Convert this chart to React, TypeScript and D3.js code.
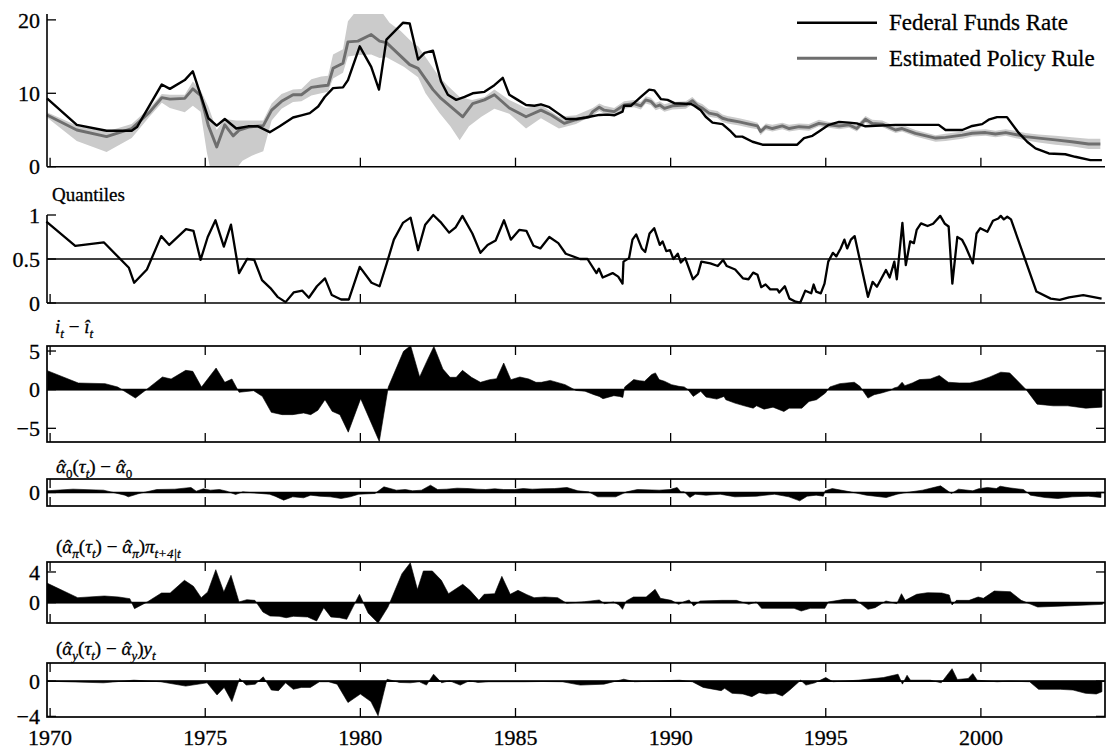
import React from 'react';
import * as d3 from 'd3';

type P = [number, number];

// ---------- data ----------
const yearTicks = [1970, 1975, 1980, 1985, 1990, 1995, 2000];

const fedFundsRate: P[] = [
  [1969.9, 9.3], [1970.86, 5.7], [1971.82, 4.9], [1972.63, 4.9], [1972.8, 5.4], [1973.6, 11.2], [1973.86, 10.6],
  [1974.34, 11.8], [1974.6, 13.0], [1975.1, 6.6], [1975.37, 5.6], [1975.63, 6.5], [1976.0, 5.2], [1976.38, 5.5],
  [1976.7, 5.5], [1977.08, 4.7], [1977.4, 5.5], [1977.83, 6.7], [1978.1, 7.0], [1978.37, 7.3], [1978.64, 8.2],
  [1978.85, 9.5], [1979.12, 10.7], [1979.44, 10.8], [1979.6, 11.8], [1979.98, 16.4], [1980.35, 13.6], [1980.6, 10.5],
  [1980.84, 17.3], [1981.37, 19.6], [1981.59, 19.5], [1981.86, 14.6], [1982.07, 15.5], [1982.34, 15.8], [1982.6, 11.6],
  [1982.82, 9.8], [1983.09, 9.1], [1983.36, 9.5], [1983.62, 10.0], [1984.0, 10.2], [1984.32, 11.1], [1984.59, 12.1],
  [1984.8, 9.8], [1985.07, 9.1], [1985.34, 8.4], [1985.61, 8.3], [1985.82, 8.5], [1986.09, 8.1], [1986.36, 7.3],
  [1986.63, 6.5], [1986.95, 6.5], [1987.27, 6.7], [1987.7, 7.05], [1987.97, 7.1], [1988.18, 7.0], [1988.45, 7.5],
  [1988.5, 8.3], [1988.72, 8.3], [1988.88, 8.9], [1989.04, 9.5], [1989.31, 10.5], [1989.47, 10.4], [1989.69, 9.2],
  [1989.9, 9.1], [1990.12, 8.65], [1990.65, 8.55], [1990.76, 8.3], [1990.97, 7.7], [1991.13, 6.8], [1991.35, 6.0],
  [1991.67, 5.8], [1991.94, 4.8], [1992.1, 4.1], [1992.31, 4.1], [1992.64, 3.4], [1992.96, 3.0], [1994.08, 3.0],
  [1994.3, 3.9], [1994.57, 4.2], [1994.78, 4.8], [1995.1, 5.7], [1995.43, 6.1], [1995.75, 6.0], [1996.0, 5.9],
  [1996.28, 5.5], [1997.25, 5.7], [1998.64, 5.7], [1998.86, 5.0], [1999.4, 5.0], [1999.72, 5.55], [2000.04, 5.8],
  [2000.25, 6.4], [2000.52, 6.75], [2000.84, 6.75], [2001.22, 4.6], [2001.49, 3.4], [2001.76, 2.5], [2002.19, 1.8],
  [2002.72, 1.7], [2003.04, 1.35], [2003.53, 0.9], [2003.9, 0.9],
];

const policyRule: P[] = [
  [1969.9, 7.05], [1970.86, 5.0], [1971.82, 4.1], [1972.63, 5.2], [1973.2, 7.4], [1973.6, 9.4], [1973.86, 9.2],
  [1974.34, 9.3], [1974.6, 10.6], [1974.85, 9.7], [1975.1, 5.6], [1975.37, 2.7], [1975.63, 5.7], [1975.9, 4.2],
  [1976.1, 5.0], [1976.4, 5.4], [1976.87, 5.6], [1977.14, 7.7], [1977.46, 8.9], [1977.83, 9.8], [1978.1, 9.8],
  [1978.42, 10.8], [1978.74, 11.0], [1978.96, 11.1], [1979.12, 13.4], [1979.44, 14.1], [1979.6, 17.0], [1979.92, 17.1],
  [1980.35, 18.0], [1980.62, 17.1], [1980.84, 16.9], [1981.59, 13.9], [1981.86, 13.4], [1982.34, 10.5], [1982.6, 9.3],
  [1983.3, 6.8], [1983.62, 8.6], [1984.0, 9.1], [1984.32, 9.8], [1984.8, 8.0], [1985.34, 6.8], [1985.82, 7.7],
  [1986.15, 7.05], [1986.57, 5.9], [1986.95, 6.4], [1987.38, 6.8], [1987.49, 7.5], [1987.7, 8.1], [1987.86, 7.7],
  [1988.18, 7.5], [1988.5, 8.4], [1988.82, 8.6], [1989.04, 8.3], [1989.2, 9.1], [1989.36, 8.9], [1989.52, 8.2],
  [1989.65, 8.4], [1989.8, 7.95], [1990.06, 8.3], [1990.49, 8.4], [1990.7, 9.0], [1990.87, 8.3], [1991.03, 7.95],
  [1991.24, 7.3], [1991.51, 7.05], [1991.67, 6.6], [1991.83, 6.4], [1992.21, 6.1], [1992.53, 5.8], [1992.8, 5.55],
  [1992.9, 4.8], [1993.07, 5.45], [1993.28, 5.2], [1993.6, 5.55], [1993.82, 5.2], [1994.14, 5.45], [1994.46, 5.35],
  [1994.78, 5.9], [1995.1, 5.7], [1995.43, 5.55], [1995.75, 5.7], [1996.0, 5.2], [1996.28, 6.45], [1996.5, 5.9],
  [1996.82, 5.8], [1997.14, 5.2], [1997.25, 5.0], [1997.46, 5.2], [1997.89, 4.55], [1998.54, 3.9], [1998.86, 4.0],
  [1999.4, 4.3], [1999.72, 4.55], [2000.15, 4.65], [2000.47, 4.45], [2000.8, 4.65], [2001.22, 4.3], [2001.43, 4.1],
  [2001.86, 3.9], [2002.4, 3.65], [2002.93, 3.4], [2003.47, 3.1], [2003.85, 3.1],
];

const bandUpper: P[] = [
  [1969.9, 7.4], [1970.86, 5.6], [1971.82, 4.8], [1972.63, 5.8], [1973.2, 8.0], [1973.6, 9.9], [1973.86, 9.8],
  [1974.34, 9.8], [1974.6, 11.6], [1974.85, 10.4], [1975.1, 8.2], [1975.37, 5.0], [1975.63, 6.5], [1976.0, 6.3],
  [1976.38, 6.3], [1976.87, 6.3], [1977.14, 8.6], [1977.46, 9.9], [1977.83, 10.5], [1978.1, 10.6], [1978.42, 11.9],
  [1978.74, 12.3], [1978.96, 12.4], [1979.12, 15.3], [1979.44, 16.0], [1979.6, 19.8], [1979.92, 21.5], [1980.62, 21.5],
  [1980.94, 19.6], [1981.3, 18.5], [1981.7, 16.8], [1981.86, 16.4], [1982.5, 12.5], [1982.8, 11.1], [1983.2, 9.5],
  [1983.6, 9.1], [1984.0, 9.5], [1984.32, 10.5], [1984.8, 9.1], [1985.34, 8.0], [1985.82, 8.4], [1986.4, 6.8],
  [1986.95, 7.0], [1987.49, 8.0], [1987.7, 8.6], [1987.86, 8.3], [1988.18, 8.0], [1988.5, 8.9], [1988.82, 9.1],
  [1989.04, 8.8], [1989.2, 9.6], [1989.36, 9.4], [1989.52, 8.7], [1989.65, 8.9], [1989.8, 8.5], [1990.06, 8.8],
  [1990.49, 8.9], [1990.7, 9.5], [1990.87, 8.8], [1991.03, 8.5], [1991.24, 7.8], [1991.51, 7.6], [1991.67, 7.1],
  [1991.83, 6.9], [1992.21, 6.6], [1992.53, 6.3], [1992.8, 6.0], [1992.9, 5.2], [1993.07, 5.9], [1993.28, 5.7],
  [1993.6, 6.0], [1993.82, 5.7], [1994.14, 5.9], [1994.46, 5.8], [1994.78, 6.4], [1995.1, 6.1], [1995.43, 6.0],
  [1995.75, 6.1], [1996.0, 5.7], [1996.28, 6.9], [1996.5, 6.4], [1996.82, 6.3], [1997.14, 5.7], [1997.25, 5.5],
  [1997.46, 5.7], [1997.89, 5.0], [1998.54, 4.3], [1998.86, 4.5], [1999.4, 4.8], [1999.72, 5.0], [2000.15, 5.1],
  [2000.47, 4.9], [2000.8, 5.1], [2001.22, 4.8], [2001.43, 4.6], [2001.86, 4.4], [2002.4, 4.2], [2002.93, 4.0],
  [2003.47, 3.8], [2003.85, 3.8],
];

const bandLower: P[] = [
  [1969.9, 6.7], [1970.86, 3.5], [1971.82, 2.0], [1972.63, 3.9], [1973.2, 6.8], [1973.6, 8.7], [1973.86, 8.0],
  [1974.34, 7.4], [1974.6, 8.3], [1974.85, 7.5], [1975.05, 2.0], [1975.2, -1.0], [1975.63, -0.5], [1976.0, -0.3],
  [1976.2, 0.8], [1976.5, 1.5], [1976.87, 2.1], [1977.14, 6.3], [1977.46, 7.9], [1977.83, 8.8], [1978.1, 8.9],
  [1978.42, 9.7], [1978.74, 10.0], [1978.96, 10.2], [1979.12, 12.0], [1979.44, 12.8], [1979.6, 15.0], [1979.92, 15.2],
  [1980.35, 15.3], [1980.62, 14.8], [1980.84, 14.9], [1981.4, 13.6], [1981.86, 12.2], [1982.1, 10.0], [1982.55, 7.3],
  [1982.9, 5.5], [1983.2, 3.6], [1983.5, 5.5], [1983.9, 6.8], [1984.32, 7.9], [1984.8, 7.2], [1985.34, 5.2],
  [1985.82, 6.6], [1986.4, 5.2], [1986.95, 5.8], [1987.49, 7.0], [1987.7, 7.6], [1987.86, 7.2], [1988.18, 7.0],
  [1988.5, 7.9], [1988.82, 8.1], [1989.04, 7.8], [1989.2, 8.6], [1989.36, 8.4], [1989.52, 7.7], [1989.65, 7.9],
  [1989.8, 7.5], [1990.06, 7.8], [1990.49, 7.9], [1990.7, 8.5], [1990.87, 7.8], [1991.03, 7.5], [1991.24, 6.8],
  [1991.51, 6.6], [1991.67, 6.1], [1991.83, 5.9], [1992.21, 5.6], [1992.53, 5.3], [1992.8, 5.1], [1992.9, 4.3],
  [1993.07, 5.0], [1993.28, 4.8], [1993.6, 5.1], [1993.82, 4.8], [1994.14, 5.0], [1994.46, 4.9], [1994.78, 5.5],
  [1995.1, 5.3], [1995.43, 5.1], [1995.75, 5.3], [1996.0, 4.8], [1996.28, 6.0], [1996.5, 5.5], [1996.82, 5.4],
  [1997.14, 4.8], [1997.25, 4.6], [1997.46, 4.8], [1997.89, 4.1], [1998.54, 3.4], [1998.86, 3.5], [1999.4, 3.8],
  [1999.72, 4.1], [2000.15, 4.2], [2000.47, 4.0], [2000.8, 4.2], [2001.22, 3.8], [2001.43, 3.6], [2001.86, 3.3],
  [2002.4, 3.0], [2002.93, 2.8], [2003.47, 2.4], [2003.85, 2.4],
];

const quantiles: P[] = [
  [1969.88, 0.925], [1970.81, 0.65], [1971.73, 0.69], [1972.54, 0.40], [1972.71, 0.23], [1973.12, 0.38],
  [1973.58, 0.76], [1973.84, 0.66], [1974.38, 0.84], [1974.62, 0.82], [1974.85, 0.49], [1975.08, 0.75],
  [1975.33, 0.94], [1975.6, 0.64], [1975.83, 0.89], [1976.09, 0.34], [1976.35, 0.50], [1976.58, 0.49],
  [1976.83, 0.26], [1977.1, 0.17], [1977.33, 0.07], [1977.59, 0.01], [1977.85, 0.12], [1978.13, 0.14],
  [1978.34, 0.06], [1978.6, 0.19], [1978.86, 0.28], [1979.08, 0.09], [1979.38, 0.04], [1979.63, 0.04],
  [1979.98, 0.41], [1980.36, 0.23], [1980.62, 0.19], [1980.85, 0.45], [1981.08, 0.72], [1981.37, 0.91],
  [1981.62, 0.97], [1981.86, 0.60], [1982.09, 0.89], [1982.35, 1.0], [1982.61, 0.91], [1982.86, 0.80],
  [1983.07, 0.86], [1983.29, 0.99], [1983.61, 0.79], [1983.87, 0.57], [1984.1, 0.66], [1984.36, 0.71],
  [1984.63, 0.94], [1984.85, 0.72], [1985.12, 0.83], [1985.35, 0.82], [1985.58, 0.65], [1985.8, 0.62],
  [1986.09, 0.75], [1986.38, 0.68], [1986.62, 0.56], [1987.08, 0.50], [1987.32, 0.50], [1987.61, 0.34],
  [1987.69, 0.39], [1987.81, 0.29], [1988.13, 0.34], [1988.31, 0.30], [1988.45, 0.22], [1988.48, 0.47],
  [1988.66, 0.51], [1988.77, 0.72], [1988.89, 0.78], [1989.07, 0.62], [1989.18, 0.58], [1989.32, 0.79],
  [1989.47, 0.85], [1989.65, 0.66], [1989.74, 0.70], [1989.86, 0.59], [1989.98, 0.60], [1990.09, 0.50],
  [1990.23, 0.56], [1990.33, 0.46], [1990.47, 0.51], [1990.72, 0.27], [1990.88, 0.33], [1990.99, 0.47],
  [1991.28, 0.45], [1991.52, 0.42], [1991.69, 0.49], [1991.81, 0.42], [1992.08, 0.38], [1992.33, 0.28],
  [1992.51, 0.27], [1992.66, 0.345], [1992.8, 0.32], [1992.92, 0.18], [1993.06, 0.21], [1993.21, 0.155],
  [1993.44, 0.155], [1993.5, 0.12], [1993.68, 0.19], [1993.83, 0.05], [1994.03, 0.015], [1994.18, 0.005],
  [1994.34, 0.14], [1994.53, 0.11], [1994.61, 0.21], [1994.69, 0.13], [1994.84, 0.11], [1994.96, 0.22],
  [1995.08, 0.47], [1995.23, 0.57], [1995.34, 0.53], [1995.48, 0.62], [1995.6, 0.72], [1995.69, 0.62],
  [1995.81, 0.72], [1995.93, 0.76], [1996.36, 0.07], [1996.51, 0.24], [1996.65, 0.185], [1996.94, 0.375],
  [1997.06, 0.29], [1997.21, 0.47], [1997.29, 0.27], [1997.47, 0.91], [1997.58, 0.43], [1997.72, 0.70],
  [1997.84, 0.68], [1997.93, 0.83], [1998.07, 0.905], [1998.28, 0.875], [1998.46, 0.90], [1998.69, 0.99],
  [1998.84, 0.90], [1998.96, 0.87], [1999.08, 0.22], [1999.24, 0.75], [1999.39, 0.72], [1999.51, 0.64],
  [1999.74, 0.45], [1999.86, 0.79], [1999.98, 0.85], [2000.21, 0.81], [2000.39, 0.935], [2000.56, 0.96],
  [2000.64, 0.99], [2000.74, 0.95], [2000.85, 0.98], [2000.97, 0.95], [2001.79, 0.13], [2002.25, 0.05],
  [2002.54, 0.035], [2002.84, 0.065], [2003.3, 0.09], [2003.89, 0.05],
];

const residual: P[] = [
  [1969.91, 2.46], [1970.91, 0.86], [1971.77, 0.78], [1972.18, 0.34], [1972.75, -1.08], [1973.1, 0.0],
  [1973.62, 1.64], [1973.9, 1.38], [1974.37, 2.5], [1974.6, 2.37], [1974.88, 0.34], [1975.35, 2.8],
  [1975.63, 0.95], [1975.86, 1.38], [1976.09, -0.34], [1976.56, -0.13], [1976.84, -0.86], [1977.13, -2.93],
  [1977.48, -3.23], [1977.82, -3.23], [1978.17, -3.02], [1978.4, -3.23], [1978.63, -2.67], [1978.86, -1.29],
  [1979.09, -2.8], [1979.34, -3.23], [1979.61, -5.5], [1980.01, -1.16], [1980.61, -6.7], [1980.9, 0.34],
  [1981.39, 4.96], [1981.62, 5.7], [1981.91, 1.64], [1982.14, 3.66], [1982.37, 5.6], [1982.66, 2.67],
  [1982.89, 1.6], [1983.09, 1.6], [1983.29, 2.5], [1983.58, 1.6], [1983.87, 0.95], [1984.16, 1.29],
  [1984.39, 1.42], [1984.62, 3.45], [1984.85, 1.29], [1985.14, 1.64], [1985.43, 1.38], [1985.66, 0.95],
  [1985.83, 0.95], [1986.12, 1.2], [1986.6, 0.65], [1986.95, -0.1], [1987.24, -0.2], [1987.53, -0.65],
  [1987.7, -0.87], [1987.82, -1.17], [1988.17, -0.78], [1988.35, -0.87], [1988.46, -1.0], [1988.52, 0.35],
  [1988.81, 1.3], [1988.99, 1.17], [1989.16, 1.09], [1989.39, 1.96], [1989.51, 2.17], [1989.63, 1.3],
  [1989.8, 1.09], [1990.03, 0.65], [1990.27, 0.43], [1990.44, 0.35], [1990.56, 0.0], [1990.73, -0.87],
  [1990.97, -0.22], [1991.14, -0.96], [1991.49, -1.22], [1991.72, -0.87], [1991.78, -1.3], [1992.07, -1.74],
  [1992.37, -2.09], [1992.66, -2.39], [1992.77, -2.09], [1993.01, -2.52], [1993.3, -2.26], [1993.65, -2.83],
  [1993.82, -2.39], [1994.23, -2.39], [1994.46, -1.52], [1994.7, -1.3], [1994.99, -0.43], [1995.13, 0.35],
  [1995.45, 0.78], [1995.92, 0.96], [1996.1, 0.43], [1996.36, -1.09], [1996.56, -0.65], [1996.8, -0.43],
  [1997.09, -0.09], [1997.2, 0.22], [1997.32, 0.35], [1997.46, 0.96], [1997.55, 0.52], [1997.79, 0.87],
  [1998.02, 1.3], [1998.37, 1.39], [1998.66, 1.83], [1998.95, 0.96], [1999.3, 0.87], [1999.65, 0.87],
  [2000.0, 1.22], [2000.29, 1.65], [2000.64, 2.26], [2000.93, 2.17], [2001.46, 0.0], [2001.81, -1.87],
  [2002.33, -2.09], [2002.8, -2.09], [2003.38, -2.39], [2003.9, -2.26],
];

const alpha0Dev: P[] = [
  [1969.9, 0.19], [1970.74, 0.37], [1971.72, 0.26], [1972.41, -0.3], [1972.52, -0.48], [1972.87, -0.11],
  [1973.44, 0.33], [1974.02, 0.37], [1974.54, 0.56], [1974.71, 0.15], [1974.94, 0.41], [1975.17, 0.26],
  [1975.46, 0.33], [1975.69, 0.15], [1975.98, -0.22], [1976.21, 0.07], [1976.56, -0.04], [1977.07, -0.19],
  [1977.25, -0.41], [1977.53, -0.85], [1977.82, -0.48], [1978.17, -0.59], [1978.4, -0.3], [1978.69, -0.41],
  [1979.03, -0.48], [1979.38, -0.67], [1979.67, -0.48], [1979.95, -0.19], [1980.47, -0.11], [1980.76, 0.63],
  [1981.16, 0.26], [1981.45, 0.33], [1981.68, 0.19], [1981.97, 0.26], [1982.26, 0.81], [1982.49, 0.33],
  [1982.78, 0.37], [1983.12, 0.48], [1983.47, 0.44], [1983.76, 0.37], [1984.04, 0.33], [1984.33, 0.41],
  [1984.62, 0.33], [1984.97, 0.33], [1985.25, 0.44], [1985.54, 0.37], [1985.89, 0.41], [1986.26, 0.44],
  [1986.66, 0.56], [1987.01, 0.19], [1987.36, 0.07], [1987.65, -0.48], [1988.23, -0.48], [1988.58, 0.07],
  [1988.93, 0.33], [1989.63, 0.26], [1989.98, 0.33], [1990.21, 0.56], [1990.33, 0.07], [1990.44, 0.07],
  [1990.62, -0.56], [1990.79, -0.19], [1991.14, -0.3], [1991.6, -0.19], [1991.78, -0.3], [1992.07, -0.48],
  [1992.77, -0.41], [1993.35, -0.19], [1993.81, -0.48], [1994.16, -0.93], [1994.4, -0.41], [1994.69, -0.3],
  [1994.92, -0.41], [1994.98, 0.19], [1995.21, 0.44], [1995.79, 0.07], [1996.31, -0.3], [1996.95, -0.56],
  [1997.3, -0.19], [1997.53, -0.04], [1998.12, 0.26], [1998.7, 0.74], [1999.05, -0.11], [1999.28, 0.37],
  [1999.74, 0.19], [1999.92, 0.41], [2000.21, 0.56], [2000.5, 0.44], [2000.62, 0.7], [2000.91, 0.52],
  [2001.37, 0.33], [2001.6, -0.3], [2002.07, -0.56], [2002.48, -0.67], [2002.94, -0.48], [2003.47, -0.41],
  [2003.87, -0.56],
];

const alphaPiDev: P[] = [
  [1969.89, 2.57], [1970.89, 0.65], [1971.75, 0.87], [1972.21, 0.74], [1972.57, 0.52], [1972.72, -0.78],
  [1973.13, 0.09], [1973.59, 1.26], [1973.87, 1.26], [1974.33, 2.91], [1974.62, 2.13], [1974.87, 0.65],
  [1975.08, 1.39], [1975.34, 4.3], [1975.6, 1.39], [1975.83, 3.57], [1976.09, 0.09], [1976.34, 0.39],
  [1976.6, 0.3], [1976.86, -1.22], [1977.09, -1.74], [1977.38, -1.78], [1977.61, -1.96], [1977.84, -1.78],
  [1978.3, -1.87], [1978.59, -2.39], [1978.82, -0.65], [1979.05, -1.87], [1979.33, -1.96], [1979.56, -2.17],
  [1979.97, 1.09], [1980.25, -1.35], [1980.57, -2.65], [1980.89, -0.57], [1981.34, 3.78], [1981.61, 5.2],
  [1981.84, 1.7], [1982.03, 4.13], [1982.32, 4.13], [1982.61, 2.91], [1982.84, 1.17], [1983.3, 2.39],
  [1983.53, 1.61], [1983.82, 0.3], [1983.99, 1.09], [1984.33, 1.17], [1984.56, 3.43], [1984.83, 1.09],
  [1985.08, 1.61], [1985.37, 1.04], [1985.6, 0.65], [1985.94, 0.74], [1986.36, 0.65], [1986.65, -0.09],
  [1987.23, 0.13], [1987.7, 0.35], [1987.87, -0.13], [1988.16, 0.09], [1988.34, -0.3], [1988.45, -0.87],
  [1988.57, 0.22], [1988.8, 0.74], [1989.21, 0.74], [1989.5, 1.74], [1989.67, 0.57], [1990.02, 0.3],
  [1990.26, -0.22], [1990.43, 0.13], [1990.6, 0.35], [1990.74, -0.43], [1990.95, 0.22], [1991.65, 0.3],
  [1992.12, 0.3], [1992.52, -0.22], [1992.76, 0.09], [1992.93, -0.74], [1993.98, -0.74], [1994.21, -1.09],
  [1994.5, -0.74], [1994.97, -0.74], [1995.08, 0.09], [1995.6, 0.43], [1995.95, 0.43], [1996.36, -0.87],
  [1996.59, -0.65], [1996.94, 0.22], [1997.29, -0.13], [1997.44, 1.17], [1997.56, 0.3], [1997.93, 1.09],
  [1998.28, 1.3], [1998.74, 1.26], [1998.98, 1.0], [1999.07, -0.3], [1999.21, 0.3], [1999.62, 0.3],
  [1999.91, 0.74], [2000.08, 0.57], [2000.43, 1.52], [2000.95, 1.43], [2001.3, 0.3], [2001.83, -0.57],
  [2002.7, -0.43], [2003.92, -0.22],
];

const alphaYDev: P[] = [
  [1969.89, 0.0], [1971.72, -0.19], [1972.7, 0.11], [1973.56, -0.07], [1974.37, -0.56], [1975.06, -0.19],
  [1975.38, -1.57], [1975.61, -0.71], [1975.86, -2.32], [1976.11, 0.3], [1976.32, -0.45], [1976.61, -0.34],
  [1976.87, 0.49], [1977.13, -1.01], [1977.36, -1.08], [1977.59, -0.19], [1977.84, -0.93], [1978.1, -0.71],
  [1978.39, -0.71], [1978.68, -0.07], [1978.97, -0.07], [1979.25, -0.34], [1979.6, -2.43], [1980.0, -1.46],
  [1980.34, -2.32], [1980.57, -3.93], [1980.86, 0.22], [1981.26, -0.15], [1981.61, -0.19], [1981.9, -0.07],
  [1982.13, -0.45], [1982.36, 0.79], [1982.62, -0.19], [1982.87, 0.04], [1983.22, -0.45], [1983.51, 0.04],
  [1983.79, -0.15], [1984.14, -0.07], [1984.71, -0.07], [1985.29, -0.07], [1985.86, -0.04], [1986.51, -0.07],
  [1987.09, -0.45], [1987.85, -0.34], [1988.49, 0.22], [1988.84, -0.07], [1990.29, 0.11], [1990.7, -0.07],
  [1991.05, -0.71], [1991.63, -1.08], [1991.74, -0.82], [1991.98, -1.38], [1992.33, -1.46], [1992.62, -1.76],
  [1992.85, -1.31], [1993.08, -1.46], [1993.37, -1.38], [1993.6, -1.68], [1993.84, -1.01], [1994.19, 0.11],
  [1994.36, -0.45], [1994.65, -0.19], [1995.0, 0.41], [1995.23, -0.07], [1996.05, 0.11], [1996.86, 0.41],
  [1997.33, 0.79], [1997.47, -0.34], [1997.62, 0.67], [1997.73, 0.11], [1998.37, 0.11], [1998.72, -0.19],
  [1999.07, 1.42], [1999.24, 0.19], [1999.59, 0.3], [1999.74, 0.86], [1999.88, 0.11], [2000.52, -0.07],
  [2000.93, 0.0], [2001.57, -0.07], [2001.86, -0.93], [2002.56, -0.93], [2002.97, -1.01], [2003.37, -1.38],
  [2003.72, -1.46], [2003.9, -1.2],
];

// ---------- layout ----------
const W = 1107;
const H = 749;
const L = 47;
const R = 1105;
const TL = 9;
const FONT = 'Liberation Serif';
const TXT = { fontFamily: FONT, fill: '#000', stroke: '#000', strokeWidth: 0.3 };

const x = d3.scaleLinear().domain([1969.9, 2004.0]).range([L, R]);

type Seg = { t: string; i?: boolean; sub?: boolean; hat?: boolean };

function MathLabel({ xPos, yPos, segs, size = 19 }: { xPos: number; yPos: number; segs: Seg[]; size?: number }) {
  const subSize = Math.round(size * 0.7);
  const shift = 5;
  const out: React.ReactNode[] = [];
  let prevSub = false;
  let pendingDx = 0;
  segs.forEach((s, k) => {
    let dy = 0;
    if (s.sub && !prevSub) dy = shift;
    if (!s.sub && prevSub) dy = -shift;
    prevSub = !!s.sub;
    out.push(
      <tspan key={`s${k}`} dx={pendingDx} dy={dy} fontStyle={s.i ? 'italic' : 'normal'} fontSize={s.sub ? subSize : size}>
        {s.t}
      </tspan>
    );
    pendingDx = 0;
    if (s.hat) {
      // circumflex accent placed over the preceding glyph
      const back = -0.38 * size;
      out.push(
        <tspan key={`h${k}`} dx={back} fontStyle="normal" fontSize={size}>
          {'\u02C6'}
        </tspan>
      );
      pendingDx = 0.38 * size - 0.333 * size;
    }
  });
  return (
    <text x={xPos} y={yPos} fontSize={size} {...TXT}>
      {out}
    </text>
  );
}

function YLabel({ v, y, text }: { v: number; y: d3.ScaleLinear<number, number>; text: string }) {
  return (
    <text x={40} y={y(v)} dy="0.35em" textAnchor="end" fontSize={22} {...TXT}>
      {text}
    </text>
  );
}

type AreaPanelProps = {
  id: string;
  data: P[];
  domain: [number, number];
  top: number;
  bottom: number;
  leftTicks: { v: number; label: string }[];
  rightTicks: number[];
};

function AreaPanel({ id, data, domain, top, bottom, leftTicks, rightTicks }: AreaPanelProps) {
  const y = d3.scaleLinear().domain(domain).range([bottom, top]);
  const area = d3
    .area<P>()
    .x((d) => x(d[0]))
    .y0(y(0))
    .y1((d) => y(d[1]));
  return (
    <g>
      <clipPath id={id}>
        <rect x={L} y={top} width={R - L} height={bottom - top} />
      </clipPath>
      <path d={area(data) || ''} fill="#000" stroke="#000" strokeWidth={0.6} clipPath={`url(#${id})`} />
      <line x1={L} x2={R} y1={y(0)} y2={y(0)} stroke="#000" strokeWidth={1.7} />
      {yearTicks.map((t) => (
        <g key={t}>
          <line x1={x(t)} x2={x(t)} y1={top} y2={top + TL} stroke="#000" strokeWidth={1.3} />
          <line x1={x(t)} x2={x(t)} y1={bottom} y2={bottom - TL} stroke="#000" strokeWidth={1.3} />
        </g>
      ))}
      {leftTicks.map((t) => (
        <g key={t.v}>
          <line x1={L} x2={L + TL} y1={y(t.v)} y2={y(t.v)} stroke="#000" strokeWidth={1.3} />
          <YLabel v={t.v} y={y} text={t.label} />
        </g>
      ))}
      {rightTicks.map((v) => (
        <line key={v} x1={R} x2={R - TL} y1={y(v)} y2={y(v)} stroke="#000" strokeWidth={1.3} />
      ))}
      <rect x={L} y={top} width={R - L} height={bottom - top} fill="none" stroke="#000" strokeWidth={1.7} />
    </g>
  );
}

export default function App() {
  // top panel
  const yTop = d3.scaleLinear().domain([0, 20.8]).range([166.7, 14]);
  const lineTop = d3
    .line<P>()
    .x((d) => x(d[0]))
    .y((d) => yTop(d[1]));
  const bandPts: P[] = [...bandUpper, ...bandLower.slice().reverse()];
  const bandPath = (lineTop(bandPts) || '') + 'Z';

  // quantiles panel
  const yQ = d3.scaleLinear().domain([0, 1]).range([303, 215]);
  const lineQ = d3
    .line<P>()
    .x((d) => x(d[0]))
    .y((d) => yQ(d[1]));

  return (
    <svg
      width={W}
      height={H}
      viewBox={`0 0 ${W} ${H}`}
      style={{ position: 'absolute', left: 0, top: 0, background: '#fff', fontFamily: FONT }}
    >
      <rect x={0} y={0} width={W} height={H} fill="#fff" />
      {/* ---------- Panel 1 ---------- */}
      <clipPath id="clipTop">
        <rect x={L} y={14} width={R - L} height={166.7 - 14} />
      </clipPath>
      <path d={bandPath} fill="#cbcbcb" stroke="none" clipPath="url(#clipTop)" />
      <path d={lineTop(policyRule) || ''} fill="none" stroke="#6e6e6e" strokeWidth={2.9} strokeLinejoin="round" />
      <path d={lineTop(fedFundsRate) || ''} fill="none" stroke="#000" strokeWidth={2.4} strokeLinejoin="round" />
      <line x1={L} x2={L} y1={14} y2={yTop(0)} stroke="#000" strokeWidth={1.6} />
      <line x1={L} x2={R} y1={yTop(0)} y2={yTop(0)} stroke="#000" strokeWidth={1.6} />
      {yearTicks.map((t) => (
        <line key={t} x1={x(t)} x2={x(t)} y1={yTop(0)} y2={yTop(0) - TL} stroke="#000" strokeWidth={1.3} />
      ))}
      {[0, 10, 20].map((v) => (
        <g key={v}>
          <line x1={L} x2={L + TL} y1={yTop(v)} y2={yTop(v)} stroke="#000" strokeWidth={1.3} />
          <YLabel v={v} y={yTop} text={String(v)} />
        </g>
      ))}
      {/* legend */}
      <line x1={797} x2={877} y1={22.7} y2={22.7} stroke="#000" strokeWidth={2.4} />
      <text x={889} y={30} fontSize={23} {...TXT}>Federal Funds Rate</text>
      <line x1={797} x2={877} y1={58.3} y2={58.3} stroke="#6e6e6e" strokeWidth={2.9} />
      <text x={889} y={65.5} fontSize={23} {...TXT}>Estimated Policy Rule</text>

      {/* ---------- Panel 2: quantiles ---------- */}
      <text x={52} y={201} fontSize={19} {...TXT}>Quantiles</text>
      <line x1={L} x2={R} y1={yQ(0.5)} y2={yQ(0.5)} stroke="#000" strokeWidth={1.4} />
      <path d={lineQ(quantiles) || ''} fill="none" stroke="#000" strokeWidth={2.3} strokeLinejoin="round" />
      <line x1={L} x2={L} y1={yQ(1)} y2={yQ(0)} stroke="#000" strokeWidth={1.6} />
      <line x1={L} x2={R} y1={yQ(0)} y2={yQ(0)} stroke="#000" strokeWidth={1.6} />
      {yearTicks.map((t) => (
        <line key={t} x1={x(t)} x2={x(t)} y1={yQ(0)} y2={yQ(0) - TL} stroke="#000" strokeWidth={1.3} />
      ))}
      {[0, 0.5, 1].map((v) => (
        <g key={v}>
          <line x1={L} x2={L + TL} y1={yQ(v)} y2={yQ(v)} stroke="#000" strokeWidth={1.3} />
          <YLabel v={v} y={yQ} text={String(v)} />
        </g>
      ))}

      {/* ---------- Panel 3: residual ---------- */}
      <MathLabel
        xPos={55}
        yPos={333}
        segs={[
          { t: 'i', i: true },
          { t: 't', i: true, sub: true },
          { t: ' − ' },
          { t: 'î', i: true },
          { t: 't', i: true, sub: true },
        ]}
      />
      <AreaPanel
        id="clipRes"
        data={residual}
        domain={[-6.77, 5.65]}
        top={346}
        bottom={442}
        leftTicks={[
          { v: 5, label: '5' },
          { v: 0, label: '0' },
          { v: -5, label: '−5' },
        ]}
        rightTicks={[5, 0, -5]}
      />

      {/* ---------- Panel 4: alpha0 ---------- */}
      <MathLabel
        xPos={56}
        yPos={473}
        segs={[
          { t: 'α', i: true, hat: true },
          { t: '0', sub: true },
          { t: '(' },
          { t: 'τ', i: true },
          { t: 't', i: true, sub: true },
          { t: ') − ' },
          { t: 'α', i: true, hat: true },
          { t: '0', sub: true },
        ]}
      />
      <AreaPanel
        id="clipA0"
        data={alpha0Dev}
        domain={[-1.5, 1.5]}
        top={479}
        bottom={506}
        leftTicks={[{ v: 0, label: '0' }]}
        rightTicks={[0]}
      />

      {/* ---------- Panel 5: alpha_pi ---------- */}
      <MathLabel
        xPos={56}
        yPos={553}
        segs={[
          { t: '(' },
          { t: 'α', i: true, hat: true },
          { t: 'π', i: true, sub: true },
          { t: '(' },
          { t: 'τ', i: true },
          { t: 't', i: true, sub: true },
          { t: ') − ' },
          { t: 'α', i: true, hat: true },
          { t: 'π', i: true, sub: true },
          { t: ')' },
          { t: 'π', i: true },
          { t: 't+4|t', i: true, sub: true },
        ]}
      />
      <AreaPanel
        id="clipAPi"
        data={alphaPiDev}
        domain={[-2.65, 5.3]}
        top={562}
        bottom={623}
        leftTicks={[
          { v: 4, label: '4' },
          { v: 0, label: '0' },
        ]}
        rightTicks={[4, 0]}
      />

      {/* ---------- Panel 6: alpha_y ---------- */}
      <MathLabel
        xPos={56}
        yPos={655}
        segs={[
          { t: '(' },
          { t: 'α', i: true, hat: true },
          { t: 'y', i: true, sub: true },
          { t: '(' },
          { t: 'τ', i: true },
          { t: 't', i: true, sub: true },
          { t: ') − ' },
          { t: 'α', i: true, hat: true },
          { t: 'y', i: true, sub: true },
          { t: ')' },
          { t: 'y', i: true },
          { t: 't', i: true, sub: true },
        ]}
      />
      <AreaPanel
        id="clipAY"
        data={alphaYDev}
        domain={[-4.07, 2.06]}
        top={663}
        bottom={717}
        leftTicks={[
          { v: 0, label: '0' },
          { v: -4, label: '−4' },
        ]}
        rightTicks={[0, -4]}
      />

      {/* x tick labels */}
      {yearTicks.map((t) => (
        <text key={t} x={x(t)} y={745} textAnchor="middle" fontSize={22} {...TXT}>
          {t}
        </text>
      ))}
    </svg>
  );
}
